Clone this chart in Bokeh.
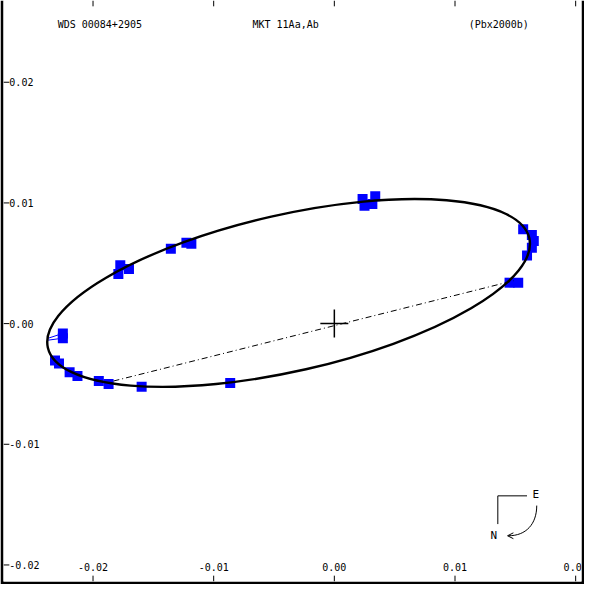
from bokeh.plotting import figure
from bokeh.models import Range1d
from bokeh.embed import file_html
from bokeh.resources import INLINE
from bokeh.core.properties import value

# ---------------- data ----------------
obs_x = [-0.02250, -0.02250, -0.02315, -0.02282, -0.02194, -0.02129, -0.01952,
         -0.01871, -0.01597, -0.00863, -0.01774, -0.01790, -0.01702, -0.01355,
         -0.01226, -0.01185, 0.00234, 0.00250, 0.00339, 0.00315, 0.01565,
         0.01637, 0.01653, 0.01637, 0.01597, 0.01452, 0.01524]
obs_y = [-0.00081, -0.00121, -0.00306, -0.00331, -0.00403, -0.00435, -0.00476,
         -0.00500, -0.00524, -0.00492, 0.00484, 0.00411, 0.00452, 0.00621,
         0.00669, 0.00661, 0.01032, 0.00976, 0.01056, 0.00992, 0.00782,
         0.00734, 0.00685, 0.00629, 0.00565, 0.00339, 0.00339]

# O-C residual ends (visible ones)
oc_x0 = [-0.02250, -0.02250]
oc_y0 = [-0.00081, -0.00121]
oc_x1 = [-0.02371, -0.02371]
oc_y1 = [-0.00121, -0.00137]

orbit_cx = [-0.00379]
orbit_cy = [0.00254]
orbit_w = [0.04092]
orbit_h = [0.01297]
orbit_angle = [0.2234]

node_x = [-0.01831, 0.01484]
node_y = [-0.00476, 0.00355]

primary_x = [0.0]
primary_y = [0.0]

x_ticks = [-0.02, -0.01, 0.0, 0.01, 0.02]
x_tick_labels = ["-0.02", "-0.01", "0.00", "0.01", "0.02"]
y_ticks = [0.02, 0.01, 0.0, -0.01, -0.02]
y_tick_labels = ["0.02", "0.01", "0.00", "-0.01", "-0.02"]

title_texts = ["WDS 00084+2905", "MKT  11Aa,Ab", "(Pbx2000b)"]

# ---------------- layout helpers ----------------
PX = 12400.0          # reference pixels per data unit
X0, Y0 = 343.0, 332.0  # reference pixel position of the origin


def rx(px):
    return (px - X0) / PX


def ry(py):
    return (Y0 - py) / PX


FONT = value("DejaVu Sans Mono")

p = figure(width=584, height=584,
           x_range=Range1d(rx(3), rx(597)), y_range=Range1d(ry(597), ry(0)),
           output_backend="svg", toolbar_location=None,
           x_axis_location=None, y_axis_location=None,
           min_border_left=3, min_border_right=3, min_border_bottom=3, min_border_top=0,
           border_fill_color="black", background_fill_color="white",
           outline_line_color=None)
p.grid.visible = False

# residual lines
p.segment(oc_x0, oc_y0, oc_x1, oc_y1, line_color="#0000ff", line_width=1)

# observations
p.scatter(obs_x, obs_y, marker="square", size=10, fill_color="#0000ff",
          line_color=None)

# orbit
p.ellipse(x=orbit_cx, y=orbit_cy, width=orbit_w, height=orbit_h, angle=orbit_angle,
          fill_color=None, line_color="black", line_width=2.4)

# line of nodes
p.line(node_x, node_y, line_color="black", line_width=1, line_dash="6 3 1 3")

# primary
p.scatter(primary_x, primary_y, marker="cross", size=28, line_color="black",
          line_width=1.5)

# ticks
tl = 6 / PX
top = p.y_range.end
bot = p.y_range.start
left = p.x_range.start
p.segment(x_ticks, [top] * 5, x_ticks, [top - tl] * 5, line_color="black", line_width=1)
p.segment(x_ticks, [bot] * 5, x_ticks, [bot + tl] * 5, line_color="black", line_width=1)
p.segment([left] * 5, y_ticks, [left + tl] * 5, y_ticks, line_color="black", line_width=1)

# tick labels
p.text(x_ticks, [ry(582)] * 5, text=x_tick_labels, text_align="center",
       text_baseline="middle", text_font=FONT, text_font_size="10px", text_color="black")
p.text([rx(9)] * 5, y_ticks, text=y_tick_labels, text_align="left",
       text_baseline="middle", text_font=FONT, text_font_size="10px", text_color="black")

# header
p.text([rx(102), rx(296), rx(512)], [ry(25)] * 3, text=title_texts, text_align="center",
       text_baseline="middle", text_font=FONT, text_font_size="10px", text_color="black")

# compass
p.line([rx(541), rx(511), rx(511)], [ry(509), ry(509), ry(538)], line_color="black",
       line_width=1)
p.text([rx(550), rx(507)], [ry(508), ry(550)], text=["E", "N"], text_align="center",
       text_baseline="middle", text_font=FONT, text_font_size="11px", text_color="black")
p.bezier(x0=[rx(551)], y0=[ry(519)], x1=[rx(522)], y1=[ry(550)],
         cx0=[rx(551)], cy0=[ry(538)], cx1=[rx(540)], cy1=[ry(550)],
         line_color="black", line_width=1)
p.segment([rx(521), rx(521)], [ry(550), ry(550)], [rx(527), rx(527)],
          [ry(547), ry(553)], line_color="black", line_width=1)

open("out.html", "w").write(file_html(p, INLINE))
